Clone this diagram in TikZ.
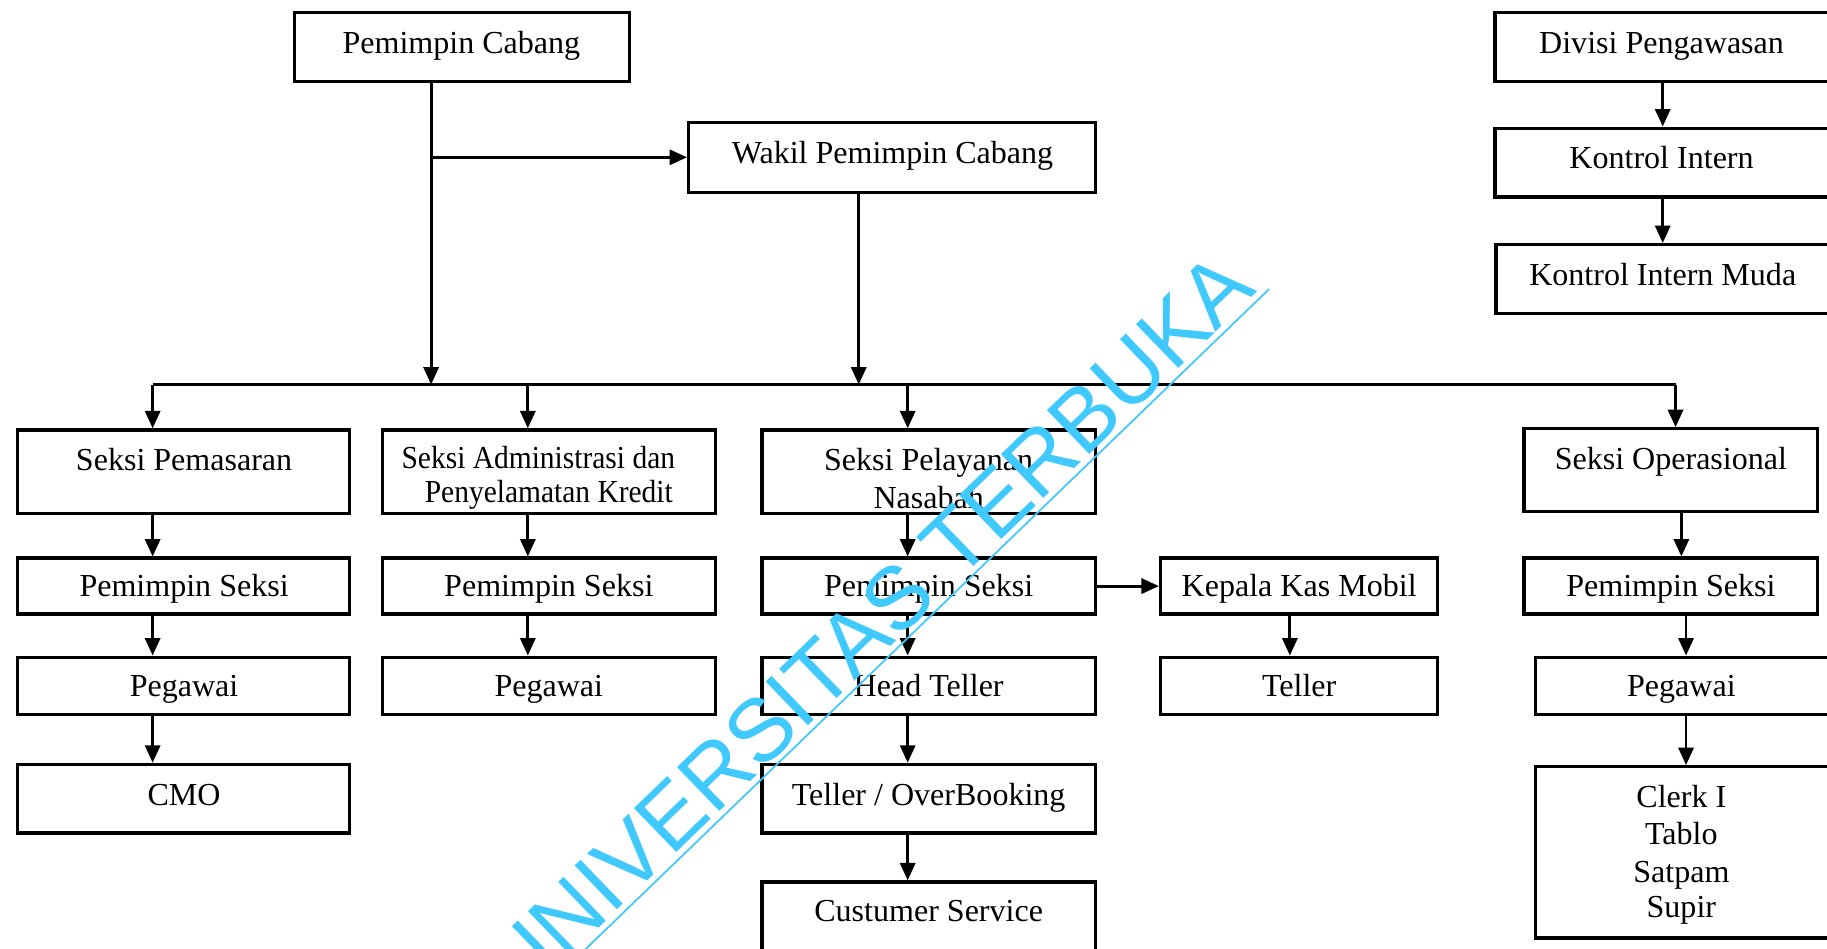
\documentclass[tikz,border=0pt]{standalone}
\usepackage{fontspec}
\setmainfont{Liberation Serif}
\newfontfamily\condf[FakeStretch=0.92]{Liberation Serif}
\newfontfamily\wmf{Liberation Sans}
\usetikzlibrary{arrows.meta,fit,calc}
\definecolor{wmcyan}{RGB}{64,201,255}
\tikzset{
  box/.style={draw, line width=2.8pt, inner sep=0pt},
  lbl/.style={anchor=base, inner sep=0pt, font=\fontsize{27.5}{32}\selectfont},
  arr/.style={line width=2.5pt, -{Triangle[length=15pt,width=13pt]}},
  ln/.style={line width=2.5pt},
}
\newcommand\mybox[5]{\node[box, fit={(#2,#3) (#4,#5)}] (#1) {};}
\begin{document}
\begin{tikzpicture}[x=1pt,y=-1pt]
\useasboundingbox (0,0) rectangle (1568,814);
\clip (0,0) rectangle (1568,814);
\fill[white] (0,0) rectangle (1568,814);
% boxes
\mybox{pc}{253}{11}{540}{70}
\mybox{wk}{591}{105}{940}{165}
\mybox{dv}{1283}{11}{1578}{70}
\mybox{ki}{1283}{110}{1578}{169}
\mybox{kim}{1284}{210}{1578}{269}
\mybox{sp}{15}{369}{300}{441}
\mybox{sa}{328}{369}{614}{441}
\mybox{sn}{654}{369}{940}{441}
\mybox{so}{1308}{368}{1560}{439}
\mybox{ps1}{15}{479}{300}{527}
\mybox{ps2}{328}{479}{614}{527}
\mybox{ps3}{654}{479}{940}{527}
\mybox{kkm}{996}{479}{1234}{527}
\mybox{ps4}{1308}{479}{1560}{527}
\mybox{pg1}{15}{564}{300}{613}
\mybox{pg2}{328}{564}{614}{613}
\mybox{ht}{654}{564}{940}{613}
\mybox{tl}{996}{564}{1234}{613}
\mybox{pg4}{1318}{564}{1578}{613}
\mybox{cmo}{15}{656}{300}{715}
\mybox{tob}{654}{656}{940}{715}
\mybox{clk}{1318}{658}{1578}{805}
\mybox{cs}{654}{757}{940}{840}
% labels
\node[lbl] (tpc) at (396,46) {Pemimpin Cabang};
\node[lbl] (twk) at (766,140) {Wakil Pemimpin Cabang};
\node[lbl] (tdv) at (1426,46) {Divisi Pengawasan};
\node[lbl] (tki) at (1426,145) {Kontrol Intern};
\node[lbl] (tkim) at (1427,245) {Kontrol Intern Muda};
\node[lbl] (tsp) at (158,404) {Seksi Pemasaran};
\node[lbl,font=\condf\fontsize{27.5}{32}\selectfont] (tsa1) at (462,402) {Seksi Administrasi dan};
\node[lbl,font=\condf\fontsize{27.5}{32}\selectfont] (tsa2) at (471,431) {Penyelamatan Kredit};
\node[lbl] (tsn1) at (797,404) {Seksi Pelayanan};
\node[lbl] (tsn2) at (797,436) {Nasabah};
\node[lbl] (tso) at (1434,403) {Seksi Operasional};
\node[lbl] (tps1) at (158,512) {Pemimpin Seksi};
\node[lbl] (tps2) at (471,512) {Pemimpin Seksi};
\node[lbl] (tps3) at (797,512) {Pemimpin Seksi};
\node[lbl] (tkkm) at (1115,512) {Kepala Kas Mobil};
\node[lbl] (tps4) at (1434,512) {Pemimpin Seksi};
\node[lbl] (tpg1) at (158,598) {Pegawai};
\node[lbl] (tpg2) at (471,598) {Pegawai};
\node[lbl] (tht) at (797,598) {Head Teller};
\node[lbl] (ttl) at (1115,598) {Teller};
\node[lbl] (tpg4) at (1443,598) {Pegawai};
\node[lbl] (tcmo) at (158,691) {CMO};
\node[lbl] (ttob) at (797,691) {Teller / OverBooking};
\node[lbl] (tcs) at (797,791) {Custumer Service};
\node[lbl] (tc1) at (1443,693) {Clerk I};
\node[lbl] (tc2) at (1443,725) {Tablo};
\node[lbl] (tc3) at (1443,757) {Satpam};
\node[lbl] (tc4) at (1443,787) {Supir};
% junction coordinates
\coordinate (jPC) at (370,330);
\coordinate (jW) at (737,330);
\coordinate (bL) at (131,330);
\coordinate (bA) at (453,330);
\coordinate (bP) at (779,330);
\coordinate (bO) at (1438,330);
\coordinate (xD) at (1427,0);
\coordinate (xK) at (1107,0);
\coordinate (xO1) at (1443,0);
\coordinate (xO2) at (1447,0);
% connectors
\draw[ln] (bL) -- (bO);
\draw[arr] (pc.south -| jPC) -- (jPC);
\draw[arr] (jPC |- wk.west) -- (wk.west);
\draw[arr] (wk.south -| jW) -- (jW);
\draw[arr] (bL) -- (bL |- sp.north);
\draw[arr] (bA) -- (bA |- sa.north);
\draw[arr] (bP) -- (bP |- sn.north);
\draw[arr] (bO) -- (bO |- so.north);
\draw[arr] (dv.south -| xD) -- (ki.north -| xD);
\draw[arr] (ki.south -| xD) -- (kim.north -| xD);
\draw[arr] (sp.south -| bL) -- (ps1.north -| bL);
\draw[arr] (ps1.south -| bL) -- (pg1.north -| bL);
\draw[arr] (pg1.south -| bL) -- (cmo.north -| bL);
\draw[arr] (sa.south -| bA) -- (ps2.north -| bA);
\draw[arr] (ps2.south -| bA) -- (pg2.north -| bA);
\draw[arr] (sn.south -| bP) -- (ps3.north -| bP);
\draw[arr] (ps3.south -| bP) -- (ht.north -| bP);
\draw[arr] (ht.south -| bP) -- (tob.north -| bP);
\draw[arr] (tob.south -| bP) -- (cs.north -| bP);
\draw[arr] (ps3.east) -- (kkm.west);
\draw[arr] (kkm.south -| xK) -- (tl.north -| xK);
\draw[arr] (so.south -| xO1) -- (ps4.north -| xO1);
\draw[arr] (ps4.south -| xO2) -- (pg4.north -| xO2);
\draw[arr] (pg4.south -| xO2) -- (clk.north -| xO2);
% watermark
\node[anchor=base east, inner sep=0pt, rotate=44, text=wmcyan,
      font=\wmf\fontsize{76}{84}\selectfont] (wm) at (1080,250) {UNIVERSITAS TERBUKA};
\draw[wmcyan, line width=1.5pt]
  ($(wm.base west)+(-46:5pt)+(224:80pt)$) -- ($(wm.base east)+(-46:5pt)+(44:8pt)$);
\end{tikzpicture}
\end{document}
